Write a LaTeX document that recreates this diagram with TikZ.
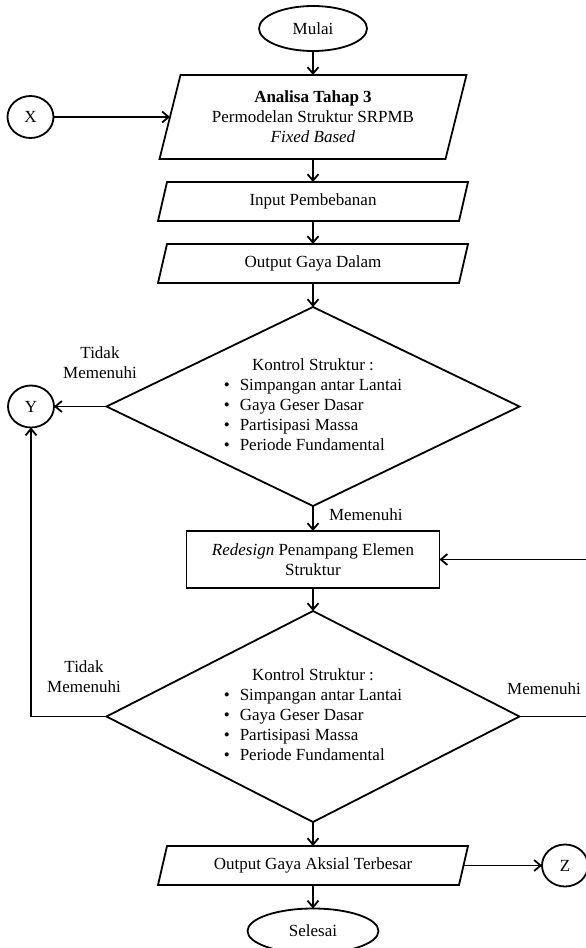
\documentclass[tikz,border=0pt]{standalone}
\usepackage{fontspec}
\setmainfont{Liberation Serif}
\usetikzlibrary{arrows.meta,shapes.geometric}

% checklist used inside both decision shapes
\newcommand{\kontrolList}{%
  \begin{tabular}{@{}l@{\hspace{10pt}}l@{}}
    \multicolumn{2}{c}{Kontrol Struktur :}\\
    \textbullet & Simpangan antar Lantai\\
    \textbullet & Gaya Geser Dasar\\
    \textbullet & Partisipasi Massa\\
    \textbullet & Periode Fundamental
  \end{tabular}}

\begin{document}
\begin{tikzpicture}[x=1pt,y=-1pt,
  every node/.style={font=\fontsize{17}{20}\selectfont, inner sep=0pt, outer sep=0pt},
  line/.style={line width=1.8pt},
  flow/.style={line, -{Straight Barb[length=6.5pt,width=11pt]}},
  term/.style={ellipse, draw, line width=1.8pt},
  conn/.style={ellipse, draw, line width=1.8pt, minimum width=46pt, minimum height=42pt},
  frame/.style={align=center},
]
\useasboundingbox (0,0) rectangle (586,948);

% terminals
\node[term, minimum width=108pt, minimum height=45pt] (mulai) at (313,28.5) {Mulai};
\node[term, minimum width=131pt, minimum height=45pt] (selesai) at (313,931) {Selesai};

% connectors
\node[conn] (x) at (30.5,117) {X};
\node[conn] (y) at (31,406.5) {Y};
\node[conn] (z) at (565,865.5) {Z};

% input / output blocks (parallelograms drawn around the text frames)
\node[frame, minimum width=286pt, minimum height=84pt] (p1) at (313,117)
  {\textbf{Analisa Tahap 3}\\Permodelan Struktur SRPMB\\\textit{Fixed Based}};
\draw[line] ([xshift=10.5pt]p1.north west) -- ([xshift=10.5pt]p1.north east)
  -- ([xshift=-10.5pt]p1.south east) -- ([xshift=-10.5pt]p1.south west) -- cycle;

\node[frame, minimum width=301pt, minimum height=39pt] (p2) at (313,201.5) {Input Pembebanan};
\draw[line] ([xshift=4.5pt]p2.north west) -- ([xshift=4.5pt]p2.north east)
  -- ([xshift=-4.5pt]p2.south east) -- ([xshift=-4.5pt]p2.south west) -- cycle;

\node[frame, minimum width=301pt, minimum height=39pt] (p3) at (313,263.5) {Output Gaya Dalam};
\draw[line] ([xshift=4.5pt]p3.north west) -- ([xshift=4.5pt]p3.north east)
  -- ([xshift=-4.5pt]p3.south east) -- ([xshift=-4.5pt]p3.south west) -- cycle;

\node[frame, minimum width=301pt, minimum height=39pt] (p4) at (313,865.5) {Output Gaya Aksial Terbesar};
\draw[line] ([xshift=4.5pt]p4.north west) -- ([xshift=4.5pt]p4.north east)
  -- ([xshift=-4.5pt]p4.south east) -- ([xshift=-4.5pt]p4.south west) -- cycle;

% decisions
\node[minimum width=413pt, minimum height=199pt] (d1) at (313,406.5) {\kontrolList};
\draw[line] (d1.north) -- (d1.east) -- (d1.south) -- (d1.west) -- cycle;

\node[minimum width=413pt, minimum height=211pt] (d2) at (313,716.5) {\kontrolList};
\draw[line] (d2.north) -- (d2.east) -- (d2.south) -- (d2.west) -- cycle;

% process
\node[draw, line width=1.8pt, align=center, minimum width=253pt, minimum height=57pt] (box) at (313,559.5)
  {\textit{Redesign} Penampang Elemen\\Struktur};

% branch labels
\node[align=center] (t1) at (100,363) {Tidak\\Memenuhi};
\node[anchor=west] (m1) at (329,515) {Memenuhi};
\node[align=center] (t2) at (84,677) {Tidak\\Memenuhi};
\node (m2) at (544,689) {Memenuhi};

% flow lines
\draw[flow] (mulai.south) -- (p1.north);
\draw[flow] (x.east) -- (p1.west);
\draw[flow] (p1.south) -- (p2.north);
\draw[flow] (p2.south) -- (p3.north);
\draw[flow] (p3.south) -- (d1.north);
\draw[flow] (d1.west) -- (y.east);
\draw[flow] (d1.south) -- (box.north);
\draw[flow] (box.south) -- (d2.north);
\draw[flow] (d2.west) -| (y.south);
\coordinate (rt) at (589,716.5);
\draw[flow] (d2.east) -- (rt) |- (box.east);
\draw[flow] (d2.south) -- (p4.north);
\draw[flow] (p4.east) -- (z.west);
\draw[flow] (p4.south) -- (selesai.north);
\end{tikzpicture}
\end{document}
